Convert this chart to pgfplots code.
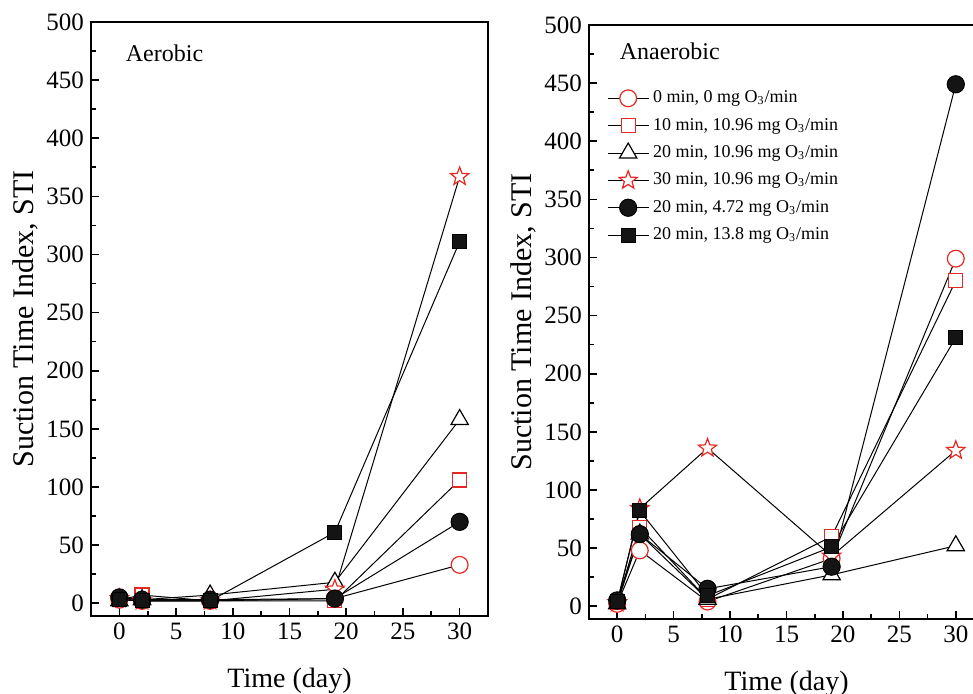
\documentclass[border=0pt]{standalone}
\usepackage{fontspec}
\setmainfont{Liberation Serif}
\usepackage{pgfplots}
\pgfplotsset{compat=1.18}
\definecolor{myred}{RGB}{230,40,35}
\pgfdeclareplotmark{ostar}{%
  \pgfpathmoveto{\pgfpointpolar{90}{1\pgfplotmarksize}}%
  \pgfpathlineto{\pgfpointpolar{126}{0.42\pgfplotmarksize}}%
  \pgfpathlineto{\pgfpointpolar{162}{1\pgfplotmarksize}}%
  \pgfpathlineto{\pgfpointpolar{198}{0.42\pgfplotmarksize}}%
  \pgfpathlineto{\pgfpointpolar{234}{1\pgfplotmarksize}}%
  \pgfpathlineto{\pgfpointpolar{270}{0.42\pgfplotmarksize}}%
  \pgfpathlineto{\pgfpointpolar{306}{1\pgfplotmarksize}}%
  \pgfpathlineto{\pgfpointpolar{342}{0.42\pgfplotmarksize}}%
  \pgfpathlineto{\pgfpointpolar{18}{1\pgfplotmarksize}}%
  \pgfpathlineto{\pgfpointpolar{54}{0.42\pgfplotmarksize}}%
  \pgfpathclose
  \pgfusepathqfillstroke
}
\pgfplotsset{
  stiaxis/.style={
    scale only axis, height=297pt,
    xmin=-2.5, xmax=32.5, ymin=-11, ymax=500,
    xtick={0,5,...,30}, ytick={0,50,...,500},
    minor x tick num=1, minor y tick num=1,
    tick align=inside, xtick pos=bottom, ytick pos=left,
    major tick length=4pt, minor tick length=2.5pt,
    axis line style={line width=0.8pt},
    every tick/.style={line width=0.8pt, black},
    tick label style={font=\fontsize{12.5}{14}\selectfont},
    /pgf/number format/assume math mode=true,
    xlabel={Time (day)}, ylabel={Suction Time Index, STI},
    every axis x label/.style={at={(rel axis cs:0.5,0)}, yshift=-32.5pt, anchor=center, font=\fontsize{14}{16}\selectfont},
    every axis y label/.style={at={(rel axis cs:0,0.5)}, xshift=-33pt, rotate=90, anchor=center, font=\fontsize{15}{17}\selectfont},
    every axis plot/.append style={line width=0.5pt, black},
    legend image code/.code={\draw[mark repeat=2,mark phase=2] plot coordinates {(0cm,0cm) (0.36cm,0cm) (0.72cm,0cm)};},
  },
  sA/.style={mark=*, mark size=4.2pt, mark options={draw=myred, fill=white, line width=0.6pt}},
  sB/.style={mark=square*, mark size=3.5pt, mark options={draw=myred, fill=white, line width=0.6pt}},
  sC/.style={mark=triangle*, mark size=5pt, mark options={draw=black, fill=white, line width=0.6pt}},
  sD/.style={mark=ostar, mark size=4.8pt, mark options={draw=myred, fill=white, line width=0.6pt}},
  sE/.style={mark=*, mark size=4.3pt, mark options={draw=black, fill=black!92}},
  sF/.style={mark=square*, mark size=3.5pt, mark options={draw=black, fill=black!92}},
}
\begin{document}
\begin{tikzpicture}
\begin{axis}[stiaxis, at={(0,0)}, anchor=south west, width=198.5pt]
\addplot[sA] coordinates {(0,3) (2,2) (8,2) (19,4) (30,33)};
\addplot[sB] coordinates {(0,3) (2,7) (8,2) (19,2) (30,106)};
\addplot[sC] coordinates {(0,2) (2,3) (8,7) (19,18) (30,158)};
\addplot[sD] coordinates {(0,4) (2,2) (8,2) (19,12) (30,367)};
\addplot[sE] coordinates {(0,5) (2,3) (8,3) (19,4) (30,70)};
\addplot[sF] coordinates {(0,3) (2,2) (8,2) (19,61) (30,311)};
\node[anchor=west, font=\fontsize{12}{14}\selectfont] at (rel axis cs:0.07,0.948) {Aerobic};
\end{axis}
\begin{axis}[stiaxis, at={(249pt,-1.5pt)}, anchor=south west, width=197.5pt,
  legend cell align=left,
  legend style={draw=none, fill=none, at={(0.04,0.9)}, anchor=north west,
    font=\fontsize{9}{11}\selectfont, row sep=2.2pt, inner sep=1pt}]
\addplot[sA] coordinates {(0,2) (2,48) (8,4) (19,41) (30,299)};
\addlegendentry{0 min, 0 mg O\textsubscript{3}/min}
\addplot[sB] coordinates {(0,3) (2,68) (8,6) (19,60) (30,280)};
\addlegendentry{10 min, 10.96 mg O\textsubscript{3}/min}
\addplot[sC] coordinates {(0,2) (2,62) (8,6) (19,27) (30,52)};
\addlegendentry{20 min, 10.96 mg O\textsubscript{3}/min}
\addplot[sD] coordinates {(0,3) (2,84) (8,136) (19,43) (30,134)};
\addlegendentry{30 min, 10.96 mg O\textsubscript{3}/min}
\addplot[sE] coordinates {(0,5) (2,62) (8,15) (19,34) (30,449)};
\addlegendentry{20 min, 4.72 mg O\textsubscript{3}/min}
\addplot[sF] coordinates {(0,4) (2,82) (8,9) (19,51) (30,231)};
\addlegendentry{20 min, 13.8 mg O\textsubscript{3}/min}
\node[anchor=west, font=\fontsize{12}{14}\selectfont] at (rel axis cs:0.06,0.955) {Anaerobic};
\end{axis}
\pgfresetboundingbox
\useasboundingbox (-45.5pt,-39pt) rectangle (441pt,308pt);
\end{tikzpicture}
\end{document}
